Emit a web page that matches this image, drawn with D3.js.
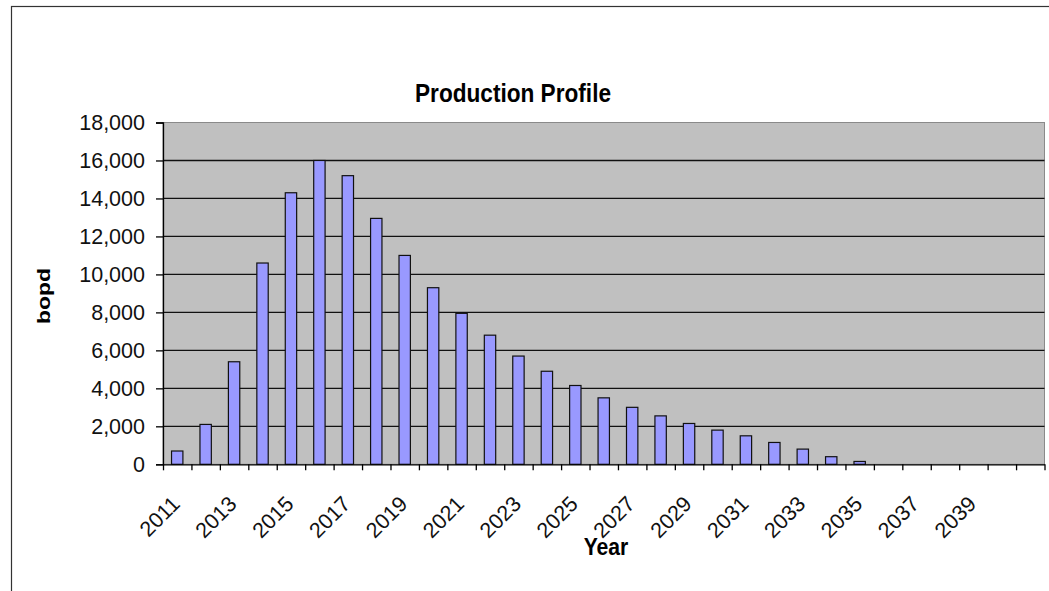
<!DOCTYPE html>
<html>
<head>
<meta charset="utf-8">
<script src="https://cdn.jsdelivr.net/npm/d3@7"></script>
<style>
  html, body { margin: 0; padding: 0; background: #fff; }
  svg { display: block; font-family: "Liberation Sans", Arial, sans-serif; }
</style>
</head>
<body>
<svg id="chart" width="1049" height="591"></svg>
<script>
// Annual oil production, barrels of oil per day
const years = d3.range(2011, 2042);
const bopd = [
  700, 2100, 5400, 10600, 14300, 16000, 15200, 12950, 11000, 9300,
  7950, 6800, 5700, 4900, 4150, 3500, 3000, 2550, 2150, 1800,
  1500, 1150, 800, 400, 150, 0, 0, 0, 0, 0, 0
];
const yTicks = [0, 2000, 4000, 6000, 8000, 10000, 12000, 14000, 16000, 18000];
const xTickLabels = [2011, 2013, 2015, 2017, 2019, 2021, 2023, 2025, 2027, 2029,
  2031, 2033, 2035, 2037, 2039];

const data = years.map((y, i) => ({ year: y, value: bopd[i] }));

const svg = d3.select("#chart");
const plot = { left: 163, right: 1044.5, top: 122.5, bottom: 464.3 };

// Outer chart frame
svg.append("rect")
  .attr("x", 11.5).attr("y", 6.5)
  .attr("width", 1100).attr("height", 700)
  .attr("fill", "#fff").attr("stroke", "#333").attr("stroke-width", 1.2);

const x = d3.scaleBand()
  .domain(years)
  .range([plot.left, plot.right])
  .paddingInner(0.6)
  .paddingOuter(0.3);

// category boundaries for tick marks
const xEdge = d3.scaleLinear()
  .domain([0, years.length])
  .range([plot.left, plot.right]);

const y = d3.scaleLinear()
  .domain([0, 18000])
  .range([plot.bottom, plot.top]);

// Plot area
svg.append("rect")
  .attr("x", plot.left).attr("y", plot.top)
  .attr("width", plot.right - plot.left)
  .attr("height", plot.bottom - plot.top)
  .attr("fill", "#c0c0c0")
  .attr("stroke", "#8a8a8a").attr("stroke-width", 1);

// Horizontal gridlines
svg.append("g")
  .selectAll("line")
  .data(yTicks.filter(t => t > 0 && t < 18000))
  .join("line")
  .attr("x1", plot.left).attr("x2", plot.right)
  .attr("y1", d => y(d)).attr("y2", d => y(d))
  .attr("stroke", "#111").attr("stroke-width", 1.3);

// Bars
svg.append("g")
  .selectAll("rect")
  .data(data.filter(d => d.value > 0))
  .join("rect")
  .attr("x", d => x(d.year))
  .attr("y", d => y(d.value))
  .attr("width", x.bandwidth())
  .attr("height", d => y(0) - y(d.value))
  .attr("fill", "#9999ff")
  .attr("stroke", "#111")
  .attr("stroke-width", 1.2);

// Y axis
const yAxis = svg.append("g")
  .attr("transform", `translate(${plot.left},0)`)
  .call(d3.axisLeft(y)
    .tickValues(yTicks)
    .tickFormat(d3.format(","))
    .tickSize(7)
    .tickPadding(11));
yAxis.select(".domain").attr("stroke", "#000").attr("stroke-width", 1.3);
yAxis.selectAll(".tick line").attr("stroke", "#000").attr("stroke-width", 1.3);
yAxis.selectAll(".tick text")
  .attr("font-size", 21.5)
  .attr("font-family", "'Liberation Sans', Arial, sans-serif")
  .attr("fill", "#111");

// X axis with tick marks between categories
const xAxis = svg.append("g")
  .attr("transform", `translate(0,${plot.bottom})`)
  .call(d3.axisBottom(xEdge)
    .tickValues(d3.range(0, years.length + 1))
    .tickFormat("")
    .tickSize(6)
    .tickSizeOuter(0));
xAxis.select(".domain").attr("stroke", "#000").attr("stroke-width", 1.3);
xAxis.selectAll(".tick line").attr("stroke", "#000").attr("stroke-width", 1.3);

// Rotated year labels
svg.append("g")
  .selectAll("text")
  .data(xTickLabels)
  .join("text")
  .attr("transform", d => `translate(${x(d) + x.bandwidth() / 2 + 4},${plot.bottom + 41}) rotate(-45)`)
  .attr("text-anchor", "end")
  .attr("font-size", 21.5)
  .attr("fill", "#111")
  .text(d => d);

// Title
svg.append("text")
  .attr("transform", "translate(513,102) scale(0.87,1)")
  .attr("text-anchor", "middle")
  .attr("font-size", 26)
  .attr("font-weight", "bold")
  .attr("fill", "#000")
  .text("Production Profile");

// Axis titles
svg.append("text")
  .attr("transform", "translate(49.5,296) scale(0.82,1) rotate(-90)")
  .attr("text-anchor", "middle")
  .attr("font-size", 23)
  .attr("font-weight", "bold")
  .attr("fill", "#000")
  .text("bopd");

svg.append("text")
  .attr("transform", "translate(606,555) scale(0.9,1)")
  .attr("text-anchor", "middle")
  .attr("font-size", 23.5)
  .attr("font-weight", "bold")
  .attr("fill", "#000")
  .text("Year");
</script>
</body>
</html>
